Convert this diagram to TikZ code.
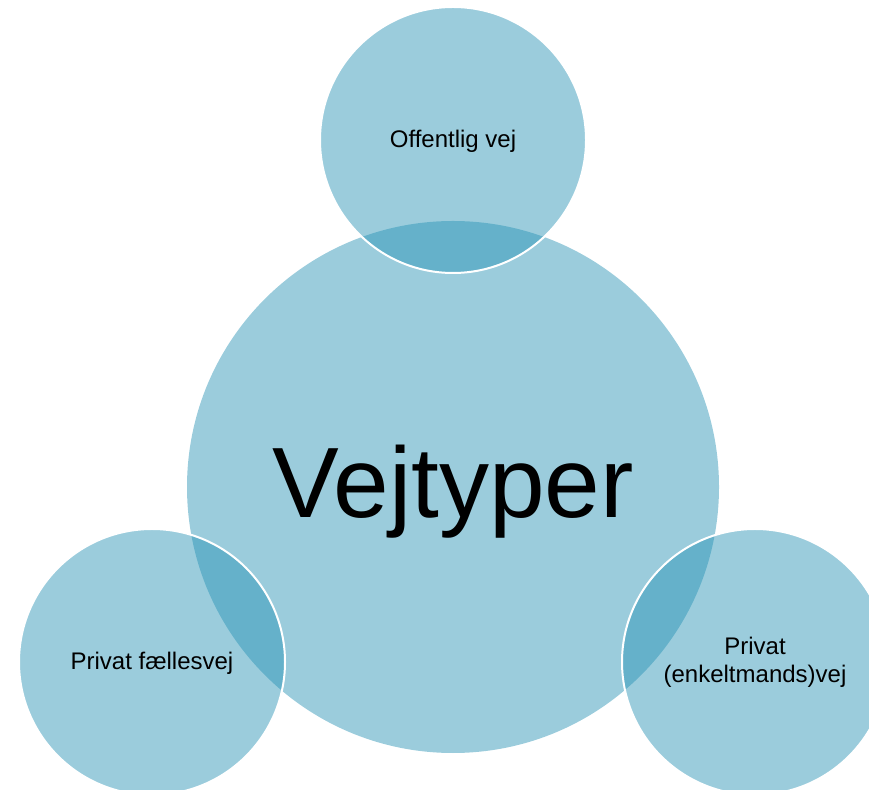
\documentclass[tikz,border=0pt]{standalone}
\usepackage{fontspec}
\setmainfont{Liberation Sans}
\definecolor{vejblaa}{RGB}{42,147,181}
\tikzset{
  bigring/.style={circle,inner sep=0pt,minimum size=532pt,fill=vejblaa,fill opacity=0.47,text opacity=1,font=\fontsize{100}{110}\selectfont,text height=72pt,text depth=10pt},
  smallring/.style={circle,inner sep=0pt,minimum size=266pt,fill=vejblaa,fill opacity=0.47,text opacity=1,draw=white,line width=2pt,align=center,font=\fontsize{24}{27.7}\selectfont},
  oneline/.style={text height=17pt,text depth=2pt}
}
\begin{document}
\begin{tikzpicture}[x=1pt,y=1pt]
 \useasboundingbox (0,0) rectangle (869,789);
 \clip (0,0) rectangle (869,789);
 \node[bigring] (vejtyper) at (453,302) {Vejtyper};
 \node[smallring,oneline] (offentlig) at (453,649) {Offentlig vej};
 \node[smallring,oneline] (faelles) at (152,127) {Privat fællesvej};
 \node[smallring] (enkelt) at (755,127) {Privat\\(enkeltmands)vej};
\end{tikzpicture}
\end{document}
